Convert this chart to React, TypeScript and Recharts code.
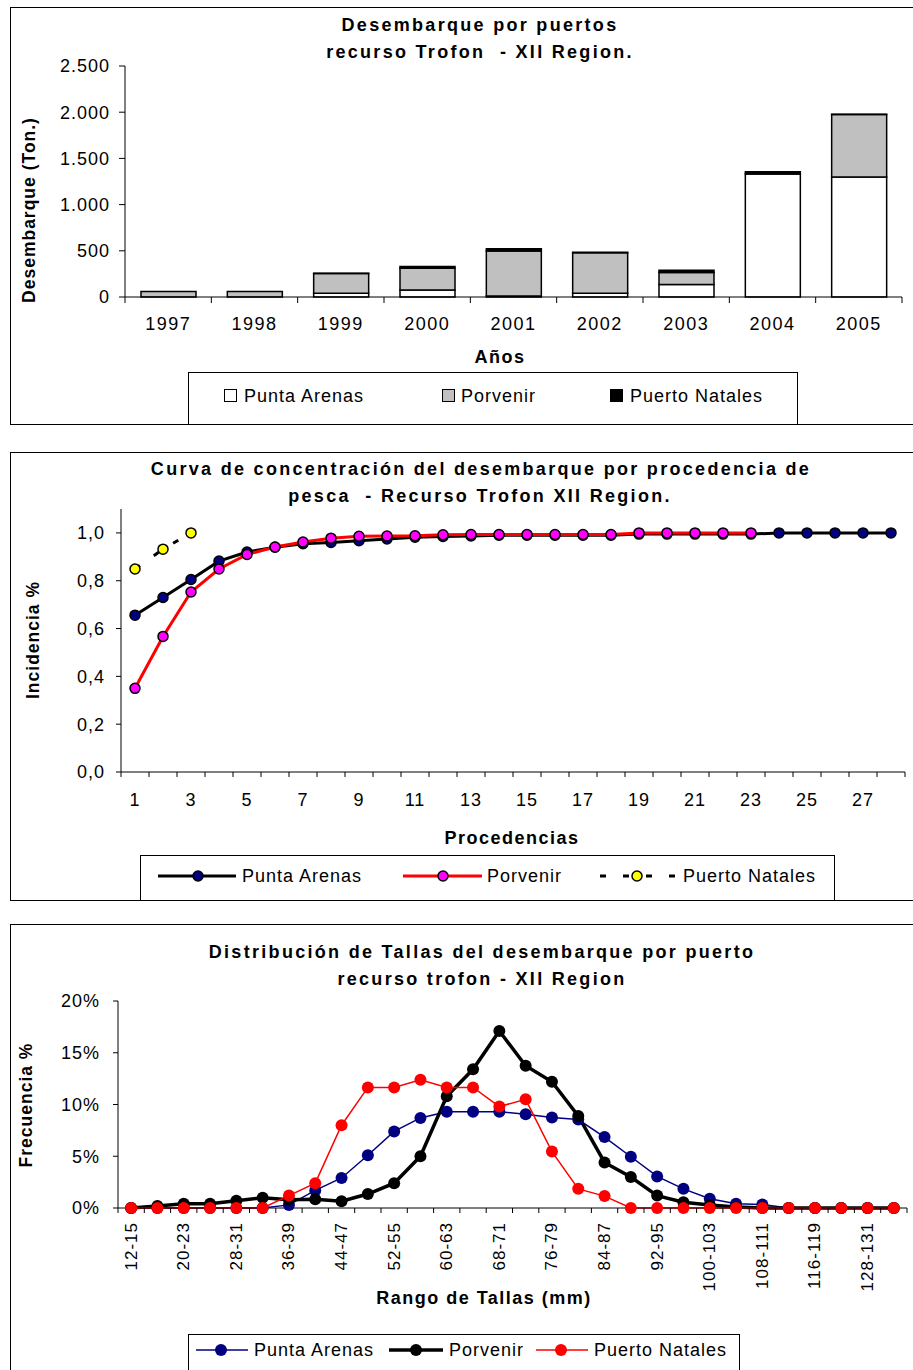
import React from 'react';
import { BarChart, Bar, LineChart, Line, XAxis, YAxis } from 'recharts';

const FONT = '"Liberation Sans", Arial, Helvetica, sans-serif';

// ---------- Chart 1: Desembarque por puertos ----------
const years = ['1997', '1998', '1999', '2000', '2001', '2002', '2003', '2004', '2005'];
const puntaArenasTon = [0, 0, 40, 75, 12, 40, 135, 1330, 1300];
const porvenirTon = [60, 60, 215, 235, 485, 440, 130, 0, 675];
const puertoNatalesTon = [0, 0, 3, 20, 25, 5, 25, 25, 3];
const landingTicks = [0, 500, 1000, 1500, 2000, 2500];

// ---------- Chart 2: Curva de concentración ----------
const procedencias = ['1', '2', '3', '4', '5', '6', '7', '8', '9', '10', '11', '12', '13', '14', '15', '16', '17', '18', '19', '20', '21', '22', '23', '24', '25', '26', '27', '28'];
const paIncidencia = [0.656, 0.73, 0.805, 0.882, 0.92, 0.94, 0.955, 0.96, 0.967, 0.975, 0.982, 0.985, 0.987, 0.99, 0.99, 0.99, 0.99, 0.99, 0.995, 0.995, 0.995, 0.995, 0.995, 1.0, 1.0, 1.0, 1.0, 1.0];
const porvenirIncidencia = [0.35, 0.567, 0.753, 0.849, 0.91, 0.941, 0.962, 0.978, 0.986, 0.987, 0.988, 0.992, 0.993, 0.993, 0.993, 0.993, 0.993, 0.993, 1.0, 1.0, 1.0, 1.0, 1.0, null, null, null, null, null];
const natalesIncidencia = [0.849, 0.932, 1.0, null, null, null, null, null, null, null, null, null, null, null, null, null, null, null, null, null, null, null, null, null, null, null, null, null];
const incidenciaTicks = [0, 0.2, 0.4, 0.6, 0.8, 1.0];

// ---------- Chart 3: Distribución de tallas ----------
const tallas = ['12-15', '16-19', '20-23', '24-27', '28-31', '32-35', '36-39', '40-43', '44-47', '48-51', '52-55', '56-59', '60-63', '64-67', '68-71', '72-75', '76-79', '80-83', '84-87', '88-91', '92-95', '96-99', '100-103', '104-107', '108-111', '112-115', '116-119', '120-127', '128-131', '132-135'];
const paFrecuencia = [0, 0, 0, 0, 0, 0, 0.3, 1.7, 2.9, 5.1, 7.4, 8.7, 9.3, 9.3, 9.3, 9.05, 8.75, 8.55, 6.85, 4.95, 3.05, 1.85, 0.9, 0.4, 0.35, 0, 0, 0, 0, 0];
const porvenirFrecuencia = [0, 0.2, 0.4, 0.4, 0.7, 1.0, 0.8, 0.85, 0.65, 1.35, 2.4, 5.0, 10.8, 13.4, 17.1, 13.75, 12.2, 8.9, 4.4, 3.0, 1.2, 0.55, 0.3, 0.1, 0, 0, 0, 0, 0, 0];
const natalesFrecuencia = [0, 0, 0, 0, 0, 0, 1.2, 2.4, 8.0, 11.65, 11.65, 12.4, 11.65, 11.65, 9.8, 10.5, 5.45, 1.85, 1.15, 0, 0, 0, 0, 0, 0, 0, 0, 0, 0, 0];
const frecuenciaTicks = [0, 5, 10, 15, 20];

const landingData = years.map((y, i) => ({ year: y, pa: puntaArenasTon[i], por: porvenirTon[i], nat: puertoNatalesTon[i] }));
const incidenciaData = procedencias.map((p, i) => ({ p, pa: paIncidencia[i], por: porvenirIncidencia[i], nat: natalesIncidencia[i] }));
const tallasData = tallas.map((t, i) => ({ t, pa: paFrecuencia[i], por: porvenirFrecuencia[i], nat: natalesFrecuencia[i] }));

const fmtThousands = (v: number) => (v >= 1000 ? `${Math.floor(v / 1000)}.${String(v % 1000).padStart(3, '0')}` : String(v));
const fmtComma = (v: number) => v.toFixed(1).replace('.', ',');
const fmtPct = (v: number) => `${v}%`;

type TickOpts = { count: number; showEvery: number; gap: number; tickLen: number; fontSize: number; rotate?: boolean; spacing: number };
const makeTick = (o: TickOpts) => (props: any) => {
  const { x, y, payload, index } = props;
  const off = typeof payload?.offset === 'number' && payload.offset > 2 ? payload.offset : (props.width || 0) / o.count / 2;
  const show = index % o.showEvery === 0;
  const ty = y + o.gap;
  return (
    <g>
      <line x1={x - off} x2={x - off} y1={y} y2={y + o.tickLen} stroke="#000" strokeWidth={1} />
      {index === o.count - 1 ? <line x1={x + off} x2={x + off} y1={y} y2={y + o.tickLen} stroke="#000" strokeWidth={1} /> : null}
      {show ? (
        o.rotate ? (
          <text x={x} y={ty} transform={`rotate(-90 ${x} ${ty})`} textAnchor="end" dominantBaseline="central" fontSize={o.fontSize} fontFamily={FONT} letterSpacing={o.spacing} fill="#000">
            {payload.value}
          </text>
        ) : (
          <text x={x} y={ty} textAnchor="middle" dominantBaseline="central" fontSize={o.fontSize} fontFamily={FONT} letterSpacing={o.spacing} fill="#000">
            {payload.value}
          </text>
        )
      ) : null}
    </g>
  );
};

const yTick = { fill: '#000', fontSize: 18, fontFamily: FONT, letterSpacing: 1 };

type TxtProps = { x: number; y: number; children: React.ReactNode; bold?: boolean; size?: number; anchor?: 'middle' | 'start'; rotate?: boolean; spacing?: number };
const Txt = ({ x, y, children, bold, size = 18, anchor = 'middle', rotate, spacing = 1 }: TxtProps) => (
  <div
    style={{
      position: 'absolute',
      left: x,
      top: y,
      transform: `${anchor === 'middle' ? 'translate(-50%,-50%)' : 'translate(0,-50%)'}${rotate ? ' rotate(-90deg)' : ''}`,
      whiteSpace: 'nowrap',
      fontFamily: FONT,
      fontWeight: bold ? 700 : 400,
      fontSize: size,
      letterSpacing: spacing,
      lineHeight: 1,
      color: '#000',
    }}
  >
    {children}
  </div>
);

const Frame = ({ top, height }: { top: number; height: number }) => (
  <div style={{ position: 'absolute', left: 10, top, width: 920, height, border: '1.5px solid #000', boxSizing: 'border-box' }} />
);

const Box = ({ left, top, width, height }: { left: number; top: number; width: number; height: number }) => (
  <div style={{ position: 'absolute', left, top, width, height, border: '1px solid #000', boxSizing: 'border-box', background: '#fff' }} />
);

const Square = ({ x, y, fill }: { x: number; y: number; fill: string }) => (
  <div style={{ position: 'absolute', left: x, top: y - 7, width: 13, height: 13, border: '1px solid #000', boxSizing: 'border-box', background: fill }} />
);

const TITLE_SP = 2.3;

export default function App() {
  return (
    <div style={{ position: 'absolute', left: 0, top: 0, width: 913, height: 1370, background: '#fff', overflow: 'hidden', fontFamily: FONT }}>
      <Frame top={7} height={418} />
      <Frame top={452} height={449} />
      <Frame top={924} height={460} />

      {/* Chart 1 */}
      <div style={{ position: 'absolute', left: 0, top: 0 }}>
        <BarChart width={913} height={430} data={landingData} margin={{ top: 66, right: 11, left: 0, bottom: 93 }} barSize={55}>
          <YAxis
            width={125}
            domain={[0, 2500]}
            ticks={landingTicks}
            interval={0}
            tickFormatter={fmtThousands}
            tick={yTick}
            axisLine={{ stroke: '#000' }}
            tickLine={{ stroke: '#000' }}
            tickSize={6}
            tickMargin={9}
          />
          <XAxis
            dataKey="year"
            height={40}
            interval={0}
            tickLine={false}
            tickSize={0}
            tickMargin={0}
            axisLine={{ stroke: '#000' }}
            tick={makeTick({ count: years.length, showEvery: 1, gap: 27, tickLen: 6, fontSize: 18, spacing: 1.5 })}
          />
          <Bar dataKey="pa" stackId="s" fill="#FFFFFF" stroke="#000" strokeWidth={1.5} isAnimationActive={false} />
          <Bar dataKey="por" stackId="s" fill="#C0C0C0" stroke="#000" strokeWidth={1.5} isAnimationActive={false} />
          <Bar dataKey="nat" stackId="s" fill="#000000" stroke="#000" strokeWidth={1.5} isAnimationActive={false} />
        </BarChart>
      </div>
      <Txt x={480} y={25} bold spacing={TITLE_SP}>Desembarque por puertos</Txt>
      <Txt x={480} y={52} bold spacing={TITLE_SP}>recurso Trofon&nbsp; - XII Region.</Txt>
      <Txt x={30} y={210} bold size={17.5} rotate spacing={1}>Desembarque (Ton.)</Txt>
      <Txt x={500} y={357} bold spacing={1.5}>Años</Txt>
      <Box left={188} top={372} width={610} height={53} />
      <Square x={224} y={396} fill="#FFFFFF" />
      <Txt x={244} y={396} anchor="start">Punta Arenas</Txt>
      <Square x={442} y={396} fill="#C0C0C0" />
      <Txt x={461} y={396} anchor="start">Porvenir</Txt>
      <Square x={610} y={396} fill="#000000" />
      <Txt x={630} y={396} anchor="start">Puerto Natales</Txt>

      {/* Chart 2 */}
      <div style={{ position: 'absolute', left: 0, top: 440 }}>
        <LineChart width={913} height={470} data={incidenciaData} margin={{ top: 69, right: 8, left: 0, bottom: 98 }}>
          <YAxis
            width={121}
            domain={[0, 1.1]}
            ticks={incidenciaTicks}
            interval={0}
            tickFormatter={fmtComma}
            tick={yTick}
            axisLine={{ stroke: '#000' }}
            tickLine={{ stroke: '#000' }}
            tickSize={5}
            tickMargin={11}
          />
          <XAxis
            dataKey="p"
            scale="band"
            height={40}
            interval={0}
            tickLine={false}
            tickSize={0}
            tickMargin={0}
            axisLine={{ stroke: '#000' }}
            tick={makeTick({ count: procedencias.length, showEvery: 2, gap: 28, tickLen: 5, fontSize: 18, spacing: 1 })}
          />
          <Line dataKey="pa" stroke="#000" strokeWidth={3} dot={{ r: 5, fill: '#000080', stroke: '#000', strokeWidth: 1.5 }} isAnimationActive={false} />
          <Line dataKey="por" stroke="#FF0000" strokeWidth={3} dot={{ r: 5, fill: '#FF00FF', stroke: '#000', strokeWidth: 1.5 }} isAnimationActive={false} />
          <Line dataKey="nat" stroke="#000" strokeWidth={3} strokeDasharray="6 17" dot={{ r: 5, fill: '#FFFF00', stroke: '#000', strokeWidth: 1.5, strokeDasharray: '' }} isAnimationActive={false} />
        </LineChart>
      </div>
      <Txt x={481} y={469} bold spacing={TITLE_SP}>Curva de concentración del desembarque por procedencia de</Txt>
      <Txt x={480} y={496} bold spacing={TITLE_SP}>pesca&nbsp; - Recurso Trofon XII Region.</Txt>
      <Txt x={34} y={640} bold size={17.5} rotate spacing={1}>Incidencia %</Txt>
      <Txt x={512} y={838} bold spacing={1.5}>Procedencias</Txt>
      <Box left={140} top={855} width={695} height={46} />
      <Txt x={242} y={876} anchor="start">Punta Arenas</Txt>
      <Txt x={487} y={876} anchor="start">Porvenir</Txt>
      <Txt x={683} y={876} anchor="start">Puerto Natales</Txt>

      {/* Chart 3 */}
      <div style={{ position: 'absolute', left: 0, top: 915 }}>
        <LineChart width={913} height={455} data={tallasData} margin={{ top: 86, right: 6, left: 0, bottom: 82 }}>
          <YAxis
            width={118}
            domain={[0, 20]}
            ticks={frecuenciaTicks}
            interval={0}
            tickFormatter={fmtPct}
            tick={yTick}
            axisLine={{ stroke: '#000' }}
            tickLine={{ stroke: '#000' }}
            tickSize={5}
            tickMargin={13}
          />
          <XAxis
            dataKey="t"
            scale="band"
            height={80}
            interval={0}
            tickLine={false}
            tickSize={0}
            tickMargin={0}
            axisLine={{ stroke: '#000' }}
            tick={makeTick({ count: tallas.length, showEvery: 2, gap: 14, tickLen: 5, fontSize: 17, spacing: 1, rotate: true })}
          />
          <Line dataKey="pa" stroke="#000080" strokeWidth={1.5} dot={{ r: 6, fill: '#000080', stroke: '#000080', strokeWidth: 0 }} isAnimationActive={false} />
          <Line dataKey="por" stroke="#000" strokeWidth={3.5} dot={{ r: 6, fill: '#000', stroke: '#000', strokeWidth: 0 }} isAnimationActive={false} />
          <Line dataKey="nat" stroke="#FF0000" strokeWidth={1.5} dot={{ r: 6, fill: '#FF0000', stroke: '#FF0000', strokeWidth: 0 }} isAnimationActive={false} />
        </LineChart>
      </div>
      <Txt x={482} y={952} bold spacing={TITLE_SP}>Distribución de Tallas del desembarque por puerto</Txt>
      <Txt x={482} y={979} bold spacing={TITLE_SP}>recurso trofon - XII Region</Txt>
      <Txt x={27} y={1105} bold size={17.5} rotate spacing={1}>Frecuencia %</Txt>
      <Txt x={484} y={1298} bold spacing={1.5}>Rango de Tallas (mm)</Txt>
      <Box left={188} top={1334} width={552} height={60} />
      <Txt x={254} y={1350} anchor="start">Punta Arenas</Txt>
      <Txt x={449} y={1350} anchor="start">Porvenir</Txt>
      <Txt x={594} y={1350} anchor="start">Puerto Natales</Txt>

      {/* Legend symbols */}
      <svg width={913} height={1370} style={{ position: 'absolute', left: 0, top: 0, pointerEvents: 'none' }}>
        <line x1={158} x2={236} y1={876} y2={876} stroke="#000" strokeWidth={3} />
        <circle cx={198} cy={876} r={5} fill="#000080" stroke="#000" strokeWidth={1.5} />
        <line x1={403} x2={482} y1={876} y2={876} stroke="#FF0000" strokeWidth={3} />
        <circle cx={443} cy={876} r={5} fill="#FF00FF" stroke="#000" strokeWidth={1.5} />
        <line x1={600} x2={676} y1={876} y2={876} stroke="#000" strokeWidth={3} strokeDasharray="6 17" />
        <circle cx={637} cy={876} r={5} fill="#FFFF00" stroke="#000" strokeWidth={1.5} />

        <line x1={196} x2={248} y1={1350} y2={1350} stroke="#000080" strokeWidth={1.5} />
        <circle cx={221} cy={1350} r={6} fill="#000080" />
        <line x1={389} x2={443} y1={1350} y2={1350} stroke="#000" strokeWidth={3.5} />
        <circle cx={416} cy={1350} r={6} fill="#000" />
        <line x1={536} x2={588} y1={1350} y2={1350} stroke="#FF0000" strokeWidth={1.5} />
        <circle cx={561} cy={1350} r={6} fill="#FF0000" />
      </svg>
    </div>
  );
}
